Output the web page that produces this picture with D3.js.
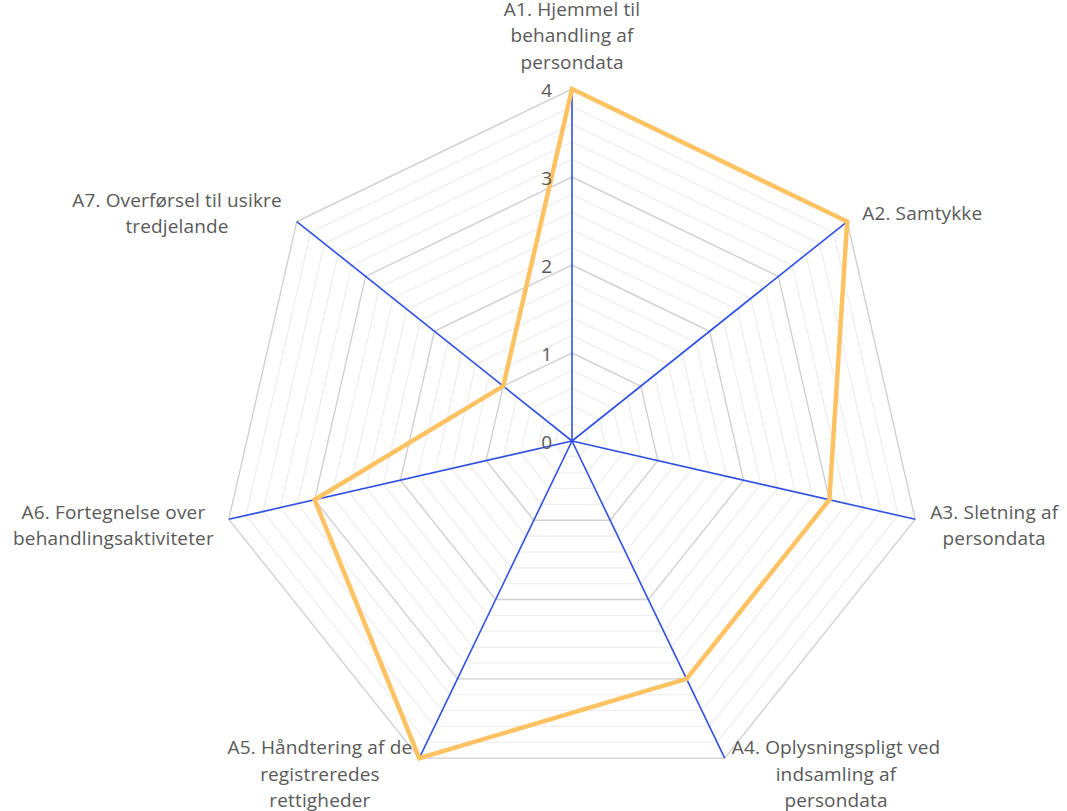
<!DOCTYPE html>
<html>
<head>
<meta charset="utf-8">
<script src="https://cdn.jsdelivr.net/npm/d3@7"></script>
<style>
  html, body { margin: 0; padding: 0; background: #fff; }
  svg { display: block; }
  text { font-family: "Open Sans", Lato, sans-serif; fill: #595959; }
</style>
</head>
<body>
<svg id="chart" width="1067" height="811"></svg>
<script>
// ---- data ----
const categories = [
  "A1. Hjemmel til behandling af persondata",
  "A2. Samtykke",
  "A3. Sletning af persondata",
  "A4. Oplysningspligt ved indsamling af persondata",
  "A5. Håndtering af de registreredes rettigheder",
  "A6. Fortegnelse over behandlingsaktiviteter",
  "A7. Overførsel til usikre tredjelande"
];
const labelLines = [
  ["A1. Hjemmel til", "behandling af", "persondata"],
  ["A2. Samtykke"],
  ["A3. Sletning af", "persondata"],
  ["A4. Oplysningspligt ved", "indsamling af", "persondata"],
  ["A5. Håndtering af de", "registreredes", "rettigheder"],
  ["A6. Fortegnelse over", "behandlingsaktiviteter"],
  ["A7. Overførsel til usikre", "tredjelande"]
];
const seriesValues = [4, 4, 3, 3, 4, 3, 1];
const tickValues = [0, 1, 2, 3, 4];
const minorStep = 0.2;

// ---- layout ----
const W = 1067, H = 811;
const cx = 572, cy = 441, R = 352;
const fontSize = 19, lineH = 26.5, letterSp = 0.15;

const svg = d3.select("#chart");
const g = svg.append("g").attr("transform", `translate(${cx},${cy})`);

const r = d3.scaleLinear().domain([0, 4]).range([0, R]);
const angle = d3.scalePoint().domain(d3.range(categories.length + 1)).range([0, 2 * Math.PI]);
const pt = (i, v) => {
  const a = angle(i);
  return [r(v) * Math.sin(a), -r(v) * Math.cos(a)];
};

// grid rings
const minorVals = d3.range(minorStep, 4 + 1e-9, minorStep).map(v => +v.toFixed(2)).filter(v => Math.abs(v - Math.round(v)) > 1e-6);
const ringLine = d3.line();
const ring = v => ringLine(categories.map((c, i) => pt(i, v))) + "Z";

g.selectAll("path.minor").data(minorVals).join("path")
  .attr("class", "minor").attr("d", ring)
  .attr("fill", "none").attr("stroke", "#ececec").attr("stroke-width", 1.1);

g.selectAll("path.major").data(tickValues.filter(v => v > 0)).join("path")
  .attr("class", "major").attr("d", ring)
  .attr("fill", "none").attr("stroke", "#d0d0d0").attr("stroke-width", 1.4);

// spokes
g.selectAll("line.spoke").data(categories).join("line")
  .attr("class", "spoke")
  .attr("x1", 0).attr("y1", 0)
  .attr("x2", (d, i) => pt(i, 4)[0]).attr("y2", (d, i) => pt(i, 4)[1])
  .attr("stroke", "#2f4fe3").attr("stroke-width", 1.6);

// series
g.append("path")
  .datum(seriesValues)
  .attr("d", d => d3.line()(d.map((v, i) => pt(i, v))) + "Z")
  .attr("fill", "none")
  .attr("stroke", "#ffc263")
  .attr("stroke-width", 4.5)
  .attr("stroke-linejoin", "miter");

// tick labels
g.selectAll("text.tick").data(tickValues).join("text")
  .attr("class", "tick")
  .attr("x", -20)
  .attr("y", d => -r(d) + 1)
  .attr("dy", "0.35em")
  .attr("text-anchor", "end")
  .attr("font-size", fontSize)
  .text(d => d);

// category labels
labelLines.forEach((lines, i) => {
  const [ex, ey] = pt(i, 4);
  const s = Math.sin(angle(i)), c = Math.cos(angle(i));
  const t = g.append("text").attr("font-size", fontSize).attr("letter-spacing", letterSp).attr("text-anchor", "middle");
  lines.forEach((ln, k) => t.append("tspan").attr("x", 0).attr("y", k * lineH).attr("dy", "0.35em").text(ln));
  const widths = [];
  t.selectAll("tspan").each(function() { widths.push(this.getComputedTextLength()); });
  const w = d3.max(widths);
  const n = lines.length;
  let bx, by; // block center
  if (Math.abs(s) < 0.1) {
    bx = ex;
    by = ey - 27 - (n - 1) * lineH / 2;
  } else {
    const gap = c < -0.5 ? 7 : 15;
    const dy = c > 0.5 ? -8 : (c < -0.5 ? 16 : 6);
    bx = s > 0 ? ex + gap + w / 2 : ex - gap - w / 2;
    by = ey + dy;
  }
  t.attr("transform", `translate(${bx},${by - (n - 1) * lineH / 2})`);
});
</script>
</body>
</html>
